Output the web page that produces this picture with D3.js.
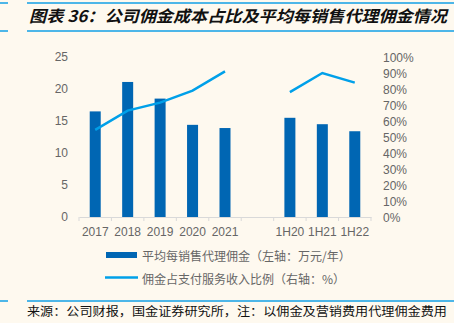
<!DOCTYPE html>
<html><head><meta charset="utf-8">
<script src="https://cdn.jsdelivr.net/npm/d3@7"></script>
<style>
html,body{margin:0;padding:0;background:#FEF9EF;}
svg{display:block;}
</style></head>
<body>
<svg id="c" width="454" height="323"></svg>
<script>
const categories = ["2017","2018","2019","2020","2021","","1H20","1H21","1H22"];
const barValues = [16.5, 21.1, 18.5, 14.4, 13.9, null, 15.5, 14.5, 13.4];
const lineValues = [54.5, 66.5, 71.5, 79, 91, null, 78, 90, 84];
const leftTicks = [0,5,10,15,20,25];
const rightTicks = [0,10,20,30,40,50,60,70,80,90,100];
const titleText = "图表 36：公司佣金成本占比及平均每销售代理佣金情况";
const legendBar = "平均每销售代理佣金（左轴：万元/年）";
const legendLine = "佣金占支付服务收入比例（右轴：%）";
const sourceText = "来源：公司财报，国金证券研究所，注：以佣金及营销费用代理佣金费用";

const svg = d3.select("#c");
const W=454,H=323;
const m={left:79,right:371,top:57,bottom:217};
const barColor="#0066B3", lineColor="#00A0E9", textColor="#666666", axisColor="#D9D9D9", rule="#4DB6E8";

svg.append("rect").attr("width",W).attr("height",H).attr("fill","#FEF9EF");

// header rules
svg.append("line").attr("x1",0).attr("x2",8).attr("y1",3).attr("y2",3).attr("stroke",rule).attr("stroke-width",2);
svg.append("line").attr("x1",27).attr("x2",454).attr("y1",3).attr("y2",3).attr("stroke",rule).attr("stroke-width",2);
svg.append("line").attr("x1",0).attr("x2",8).attr("y1",31).attr("y2",31).attr("stroke",rule).attr("stroke-width",2);
svg.append("line").attr("x1",27).attr("x2",454).attr("y1",31).attr("y2",31).attr("stroke",rule).attr("stroke-width",2);
svg.append("text").attr("x",29).attr("y",22).text(titleText)
  .attr("font-family","'Noto Sans CJK SC'").attr("font-weight","bold").attr("font-style","italic")
  .attr("font-size",16).attr("fill","#111").attr("textLength",418).attr("lengthAdjust","spacingAndGlyphs");

// footer
svg.append("line").attr("x1",0).attr("x2",8).attr("y1",301).attr("y2",301).attr("stroke",rule).attr("stroke-width",2);
svg.append("line").attr("x1",27).attr("x2",454).attr("y1",301).attr("y2",301).attr("stroke",rule).attr("stroke-width",2);
svg.append("text").attr("x",27).attr("y",316).text(sourceText)
  .attr("font-family","'Noto Sans CJK SC'").attr("font-size",12).attr("fill","#111")
  .attr("textLength",420).attr("lengthAdjust","spacingAndGlyphs");

const x = d3.scaleBand().domain(categories.map((d,i)=>i)).range([m.left,m.right]).paddingInner(0).paddingOuter(0);
const yL = d3.scaleLinear().domain([0,25]).range([m.bottom,m.top]);
const yR = d3.scaleLinear().domain([0,100]).range([m.bottom,m.top]);

// bars
const bw = 11;
svg.append("g").selectAll("rect").data(barValues.map((v,i)=>({v,i})).filter(d=>d.v!=null))
  .join("rect").attr("x",d=>x(d.i)+x.bandwidth()/2-bw/2).attr("width",bw)
  .attr("y",d=>yL(d.v)).attr("height",d=>yL(0)-yL(d.v)).attr("fill",barColor);

// x axis
const xa = svg.append("g").attr("transform",`translate(0,${m.bottom})`)
  .call(d3.axisBottom(x).tickSize(0).tickFormat(i=>categories[i]));
xa.select(".domain").attr("stroke",axisColor);
xa.selectAll("text").attr("fill",textColor).attr("font-family","'Liberation Sans',Arial").attr("font-size",12).attr("dy","1.3em");
// boundary ticks
const bounds = categories.map((d,i)=>x(i)).concat([m.right]);
svg.append("g").selectAll("line").data(bounds).join("line")
  .attr("x1",d=>d).attr("x2",d=>d).attr("y1",m.bottom).attr("y2",m.bottom+4).attr("stroke",axisColor);

// left axis
const la = svg.append("g").attr("transform",`translate(${m.left-11},0)`)
  .call(d3.axisLeft(yL).tickValues(leftTicks).tickSize(0).tickPadding(0));
la.select(".domain").remove();
la.selectAll("text").attr("fill",textColor).attr("font-family","'Liberation Sans',Arial").attr("font-size",12);

// right axis
const ra = svg.append("g").attr("transform",`translate(383,1)`)
  .call(d3.axisRight(yR).tickValues(rightTicks).tickSize(0).tickPadding(0).tickFormat(d=>d+"%"));
ra.select(".domain").remove();
ra.selectAll("text").attr("fill",textColor).attr("font-family","'Liberation Sans',Arial").attr("font-size",12);

// line
const line = d3.line().defined(d=>d.v!=null).x(d=>x(d.i)+x.bandwidth()/2).y(d=>yR(d.v));
svg.append("path").datum(lineValues.map((v,i)=>({v,i})))
  .attr("d",line).attr("fill","none").attr("stroke",lineColor).attr("stroke-width",2.5);

// legend
const lg = svg.append("g");
lg.append("rect").attr("x",106).attr("y",252).attr("width",31).attr("height",6).attr("fill",barColor);
lg.append("text").attr("x",142).attr("y",255).attr("dominant-baseline","central").text(legendBar)
  .attr("fill",textColor).attr("font-family","'Noto Sans CJK SC'").attr("font-size",12);
lg.append("line").attr("x1",105).attr("x2",138).attr("y1",277.5).attr("y2",277.5).attr("stroke",lineColor).attr("stroke-width",2.5);
lg.append("text").attr("x",142).attr("y",278).attr("dominant-baseline","central").text(legendLine)
  .attr("fill",textColor).attr("font-family","'Noto Sans CJK SC'").attr("font-size",12);
</script>
</body></html>
